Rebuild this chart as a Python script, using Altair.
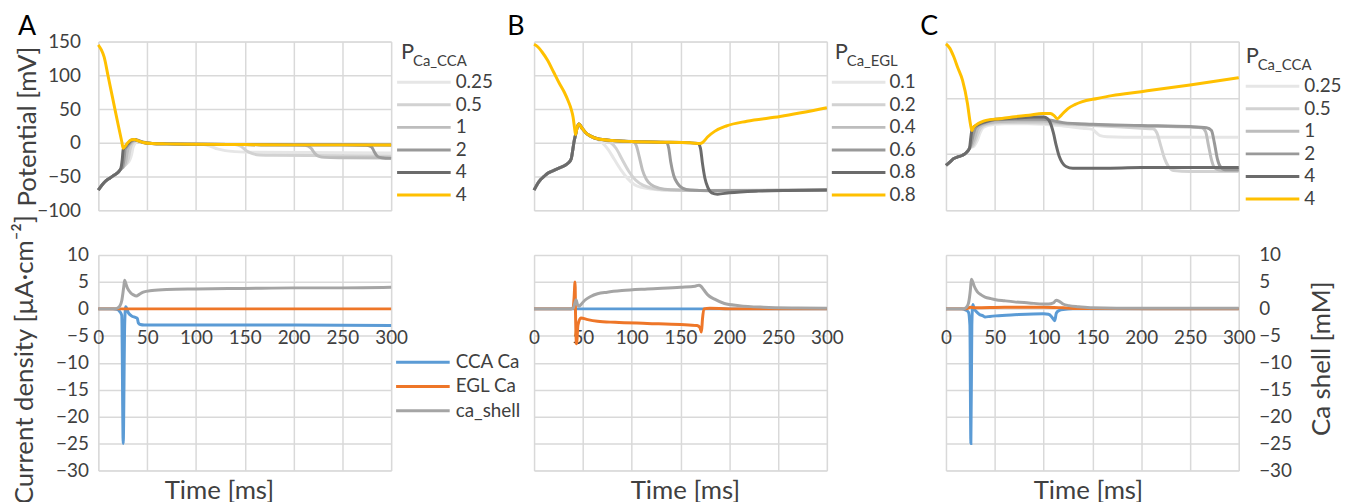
import altair as alt
import pandas as pd

FONT = "Lato"
INK = "#404040"
GRID = "#D9D9D9"

# ---------------- axis ticks / labels ----------------
time_ticks = [0, 50, 100, 150, 200, 250, 300]
pot_ticks_ab = [-100, -50, 0, 50, 100, 150]
pot_ticks_c = [-150, -50, 50, 150]
cur_ticks = [-30, -25, -20, -15, -10, -5, 0, 5, 10]

panel_letters = ["A", "B", "C"]
legend_A = ["0.25", "0.5", "1", "2", "4", "4"]
legend_B = ["0.1", "0.2", "0.4", "0.6", "0.8", "0.8"]
legend_C = ["0.25", "0.5", "1", "2", "4", "4"]
legend_main = "P"
legend_sub = ["Ca_CCA", "Ca_EGL", "Ca_CCA"]
trace_colors = ["#E6E6E6", "#D2D2D2", "#BDBDBD", "#999999", "#6B6B6B", "#FFC000"]
current_names = ["CCA Ca", "EGL Ca", "ca_shell"]
current_colors = ["#5B9BD5", "#EE7628", "#A5A5A5"]

# ---------------- panel A, potential ----------------
a1_t = [0, 4, 8, 12, 16, 20, 23, 26, 29, 32, 34, 35.5, 38, 41, 44, 49, 56, 70, 100, 108, 115, 122, 130, 140, 160, 250, 300]
a1_v = [-70, -62, -56, -52, -48, -44, -39, -35, -31, -26, -18, -7, 0, 2.5, 2, 0.5, -1, -1.5, -2, -2.5, -5, -9, -11.5, -13, -14, -14.5, -15]
a2_t = [0, 4, 8, 12, 16, 20, 23, 26, 29, 31, 32.5, 34, 37, 40, 43, 48, 55, 70, 100, 140, 146, 152, 158, 165, 180, 250, 300]
a2_v = [-70, -62, -56, -52, -48, -44, -39, -35, -30, -22, -10, -3, 2, 3.5, 2.5, 0.5, -1, -1.5, -2, -2.5, -5, -12, -16, -18, -18.5, -19, -19.5]
a3_t = [0, 4, 8, 12, 16, 20, 23, 26, 28, 29.5, 31, 33, 36, 39, 42, 47, 55, 70, 100, 150, 200, 212, 218, 222, 226, 232, 250, 300]
a3_v = [-70, -62, -56, -52, -48, -44, -39, -35, -28, -15, -6, -1, 3, 4, 3, 0.5, -1, -1.5, -2, -2.5, -3, -3.5, -8, -16, -20, -21.5, -22, -22.5]
a4_t = [0, 4, 8, 12, 16, 20, 23, 25, 26.5, 27.5, 30, 33, 36, 39, 42, 47, 55, 70, 100, 150, 200, 250, 275, 280, 283, 286, 290, 300]
a4_v = [-70, -62, -56, -52, -48, -44, -39, -35, -22, -10, -4, 1, 4, 4.5, 3, 0.5, -1, -1.5, -2, -2.5, -3, -3, -3.5, -6, -14, -20, -22, -23]
a5_t = [0, 4, 8, 12, 16, 20, 23, 24.5, 25.5, 28, 31, 34, 37, 41, 46, 55, 70, 100, 150, 200, 250, 300]
a5_v = [-70, -62, -56, -52, -48, -44, -38, -25, -10, -5, 0, 4, 5, 3, 0.5, -1, -1.5, -2, -2.5, -3, -3, -3.2]
a6_t = [0, 3, 6, 10, 15, 20, 24, 25.5, 28, 30, 34, 37, 41, 46, 55, 70, 100, 150, 200, 250, 300]
a6_v = [145, 138, 127, 99, 64, 29, 2, -8, -4, 0, 4.5, 5, 3, 0.5, -1, -1.5, -2, -2.5, -3, -3, -3.2]

# ---------------- panel B, potential ----------------
b_pre_t = [0, 3, 7, 10, 14, 20, 26, 31, 35, 38, 39.5, 41, 42.5, 44, 46, 49, 53, 58]
b_pre_v = [-70, -62, -54, -50, -45, -41, -37, -34, -30, -24, -12, 2, 12, 22, 28, 22, 15, 10]
b1_t = b_pre_t + [65, 70, 76, 82, 89, 96, 103, 110, 120, 135, 160, 200, 250, 300]
b1_v = b_pre_v + [5, 0, -10, -24, -40, -53, -62, -66, -68.5, -70, -70.5, -70.5, -70.5, -70]
b2_t = b_pre_t + [65, 72, 78, 84, 90, 97, 104, 112, 122, 140, 170, 220, 300]
b2_v = b_pre_v + [6, 4, 1, -8, -24, -42, -55, -63, -67.5, -70, -70.5, -70.5, -70]
b3_t = b_pre_t + [65, 80, 95, 102, 105, 108, 111, 115, 120, 128, 140, 170, 300]
b3_v = b_pre_v + [6, 3.5, 2.5, 1.5, -5, -22, -40, -54, -62, -67, -69.5, -70.5, -70]
b4_t = b_pre_t + [65, 80, 100, 130, 136, 138, 140, 143, 147, 152, 160, 180, 300]
b4_v = b_pre_v + [6, 3.5, 2, 1, 0.5, -8, -28, -48, -60, -67, -70, -71, -70]
b5_t = b_pre_t + [65, 80, 100, 130, 160, 168, 170.5, 172.5, 175, 178, 182, 188, 200, 230, 260, 300]
b5_v = b_pre_v + [6, 3.5, 2, 1, 0, -1, -8, -30, -52, -66, -74, -76, -74, -71.5, -70.5, -70]
b6_t = [0, 4, 8, 14, 20, 26, 31, 35, 38, 40, 41.5, 42.5, 44, 46, 49, 53, 58, 65, 80, 100, 130, 160, 170, 173, 178, 185, 197, 218, 252, 300]
b6_v = [146, 142, 135, 122, 105, 88, 75, 62, 50, 38, 22, 12, 22, 28, 22, 15, 10, 6, 3.5, 2, 1, 0, -1, 1, 9, 17, 25, 32, 39, 52]

# ---------------- panel C, potential ----------------
c_pre_t = [0, 4, 8, 12, 17, 21, 24]
c_pre_v = [-70, -64, -58, -55, -52, -47, -40]
c1_t = c_pre_t + [29, 32, 35, 38, 43, 50, 60, 85, 120, 140, 150, 154, 158, 165, 200, 300]
c1_v = c_pre_v + [-35, -26, -12, -3, 1, 3, 4, 4, 0, -4, -6, -12, -17, -19, -20, -20]
c2_t = c_pre_t + [28, 31, 34, 37, 42, 48, 58, 80, 120, 160, 200, 212, 216, 220, 224, 228, 233, 250, 300]
c2_v = c_pre_v + [-34, -22, -8, -1, 3, 5, 6, 6, 3, 0, -4, -5, -12, -35, -58, -72, -79, -81, -81]
c3_t = c_pre_t + [27, 30, 32, 35, 40, 45, 55, 75, 99, 120, 150, 200, 250, 262, 266, 269, 272, 275, 282, 300]
c3_v = c_pre_v + [-32, -18, -6, 0, 4, 6, 8, 9, 9, 5, 2, 0, -2, -3, -10, -35, -60, -74, -79, -79]
c4_t = c_pre_t + [26, 28, 30, 33, 38, 43, 51, 70, 99, 120, 150, 200, 250, 267, 272, 275, 278, 281, 286, 300]
c4_v = c_pre_v + [-30, -15, -4, 1, 5, 8, 11, 12, 12, 6, 3, 1, -1, -3, -8, -30, -58, -72, -78, -78]
c5_t = c_pre_t + [25.5, 26.5, 28, 31, 36, 41, 51, 70, 90, 100, 104, 107, 110, 113, 116, 119, 123, 130, 160, 200, 250, 300]
c5_v = c_pre_v + [-20, -8, -3, 1, 5, 8, 12, 14, 16, 16, 13, 5, -12, -35, -54, -65, -72, -75, -75, -74, -74, -74]
c6_t = [0, 4, 8, 12, 17, 22, 25, 26.5, 28, 31, 36, 41, 55, 68, 85, 99, 107, 111, 114, 118, 125, 132, 139, 155, 170, 200, 250, 300]
c6_v = [146, 138, 123, 104, 81, 40, 4, -8, -3, 2, 7, 10, 13, 16, 19, 22, 22, 18, 13, 19, 31, 38, 43, 49, 54, 61, 73, 86]

# ---------------- currents (bottom row) ----------------
ia_blue_t = [0, 15, 19, 22, 24, 25.5, 27, 28, 31, 34, 38, 40, 41, 43, 47, 60, 100, 200, 300]
ia_blue_v = [0, 0, -0.1, -0.5, -1.2, -25, -3, 0.4, -0.8, -1.3, -1.6, -1.8, -2.6, -2.9, -3, -3, -3, -3, -3.1]
ia_orange_t = [0, 100, 200, 300]
ia_orange_v = [0, 0, 0, 0]
ia_gray_t = [0, 15, 19, 22, 24, 26, 27, 28, 30, 33, 36, 39, 42, 46, 55, 70, 100, 150, 200, 250, 300]
ia_gray_v = [0, 0, 0.1, 0.5, 1.5, 4, 5.3, 4.8, 3.8, 3, 2.6, 2.4, 2.7, 3.1, 3.4, 3.6, 3.7, 3.8, 3.9, 3.9, 4]

ib_blue_t = [0, 300]
ib_blue_v = [0, 0]
ib_orange_t = [0, 38, 40, 41, 42, 42.5, 43.5, 45, 48, 55, 65, 83, 116, 150, 167, 170, 171.5, 172.5, 174, 180, 200, 300]
ib_orange_v = [0, 0, 0.2, 2, 5, -1, -6.5, -3, -1.7, -2, -2.3, -2.5, -2.7, -2.9, -3.1, -3.5, -4.3, -2, 0, 0.1, 0, 0]
ib_gray_t = [0, 36, 40, 42, 43, 44.5, 46, 48, 52, 58, 65, 75, 90, 116, 150, 165, 169, 171, 174, 178, 185, 195, 210, 235, 270, 300]
ib_gray_v = [0, 0, 0.1, 1.2, 1.7, 0.8, 0.5, 0.8, 1.6, 2.3, 2.8, 3.1, 3.4, 3.7, 4, 4.2, 4.4, 4.2, 3.5, 2.6, 1.8, 1, 0.6, 0.3, 0.15, 0.1]

ic_blue_t = [0, 16, 20, 23, 24.5, 25.5, 26.5, 27.5, 29, 31, 34, 38, 40, 45, 51, 70, 100, 105, 108, 110, 111.5, 113, 116, 120, 130, 300]
ic_blue_v = [0, 0, -0.2, -0.6, -3, -25, -3, 0.8, 0, -0.5, -1, -1.3, -1.5, -1.4, -1.3, -1.1, -0.9, -1, -1.4, -1.9, -2.2, -0.8, -0.3, -0.1, 0, 0]
ic_orange_t = [0, 20, 25, 30, 60, 100, 120, 140, 300]
ic_orange_v = [0, 0, 0.3, 0.2, 0.3, 0.3, 0.2, 0.05, 0]
ic_gray_t = [0, 18, 21, 23, 25, 26, 27, 29, 32, 36, 40, 46, 51, 60, 70, 85, 100, 105, 110, 113, 116, 120, 126, 136, 150, 200, 300]
ic_gray_v = [0, 0, 0.3, 1, 3.5, 5.5, 5.2, 4.2, 3.2, 2.6, 2.2, 1.9, 1.7, 1.5, 1.3, 1.1, 0.9, 0.9, 1.1, 1.6, 1.4, 0.9, 0.6, 0.4, 0.2, 0.1, 0.1]


def series_df(keys, series):
    rows = []
    for key, (ts, vs) in zip(keys, series):
        for t, v in zip(ts, vs):
            rows.append({"t": t, "v": v, "s": key})
    return pd.DataFrame(rows)


grid_axis = dict(grid=True, gridColor=GRID, gridWidth=1.5, domain=False, ticks=False, tickSize=0,
                 labelFont=FONT, labelFontSize=19, labelColor=INK, labelFlush=False, labelOverlap=False,
                 titleFont=FONT, titleFontSize=26, titleColor=INK, titleFontWeight="normal")

legend_common = dict(orient="none", padding=0, symbolType="M-1,0H4.4", symbolSize=400,
                     symbolStrokeWidth=3, labelFont=FONT, labelFontSize=19, labelColor=INK,
                     labelLimit=300)


def text_layer(txt, x, y, size, color):
    return alt.Chart(alt.Data(values=[{"txt": txt}])).mark_text(
        align="left", baseline="alphabetic", font=FONT, fontSize=size, color=color
    ).encode(text="txt:N", x=alt.value(x), y=alt.value(y))


def top_panel(labels, series, ydom, yticks, letter, letter_x, leg_x, leg_y, lab_off, sub, t_x, t_y, show_y):
    keys = [f"{i}|{lab}" for i, lab in enumerate(labels)]
    df = series_df(keys, series)
    y_kw = dict(values=yticks, labels=show_y, labelPadding=18, **grid_axis)
    if show_y:
        y_kw.update(title="Potential [mV]", titleX=-71, titleY=85, titleAngle=270,
                    titleAlign="center", titleBaseline="middle")
    else:
        y_kw.update(title=None)
    x = alt.X("t:Q", scale=alt.Scale(domain=[0, 300], nice=False, zero=False),
              axis=alt.Axis(values=time_ticks, labels=False, title=None, **grid_axis))
    y = alt.Y("v:Q", scale=alt.Scale(domain=ydom, nice=False, zero=False), axis=alt.Axis(**y_kw))
    color = alt.Color("s:N", scale=alt.Scale(domain=keys, range=trace_colors),
                      legend=alt.Legend(title=None, legendX=leg_x, legendY=leg_y, labelOffset=lab_off,
                                        rowPadding=0.7, labelExpr="split(datum.label, '|')[1]",
                                        **legend_common))
    base = alt.Chart(df).mark_line(strokeWidth=3, interpolate="monotone").encode(x=x, y=y, color=color)
    layers = [base.transform_filter(alt.datum.s == k) for k in keys]
    layers.append(text_layer(legend_main, t_x, t_y, 22, INK))
    layers.append(text_layer(sub, t_x + 12, t_y + 7, 15, INK))
    layers.append(text_layer(letter, letter_x, -7, 27, "#000000"))
    return alt.layer(*layers).properties(width=295, height=170)


def bottom_panel(series, y_kw, title_x, legend):
    df = series_df(current_names, series)
    x = alt.X("t:Q", scale=alt.Scale(domain=[0, 300], nice=False, zero=False),
              axis=alt.Axis(values=time_ticks, offset=-162.75, labelPadding=20, title="Time [ms]",
                            titleX=title_x, titleY=191, titleAlign="center",
                            titleBaseline="alphabetic", titleAngle=0, **grid_axis))
    y = alt.Y("v:Q", scale=alt.Scale(domain=[-30, 10], nice=False, zero=False), axis=alt.Axis(**y_kw))
    color = alt.Color("s:N", scale=alt.Scale(domain=current_names, range=current_colors), legend=legend)
    base = alt.Chart(df).mark_line(strokeWidth=3, interpolate="monotone").encode(x=x, y=y, color=color)
    layers = [base.transform_filter(alt.datum.s == k) for k in current_names]
    return alt.layer(*layers).properties(width=295, height=217)


def spacer(w, h):
    return alt.Chart(alt.Data(values=[{"k": 0}])).mark_point(opacity=0).encode(
        x=alt.value(0), y=alt.value(0)
    ).properties(width=w, height=h, view=alt.ViewBackground(stroke="transparent"))


topA = top_panel(legend_A, [(a1_t, a1_v), (a2_t, a2_v), (a3_t, a3_v), (a4_t, a4_v), (a5_t, a5_v), (a6_t, a6_v)],
                 [-100, 150], pot_ticks_ab, panel_letters[0], -81, 299.5, 29.5, 37.5, legend_sub[0], 305, 18, True)
topB = top_panel(legend_B, [(b1_t, b1_v), (b2_t, b2_v), (b3_t, b3_v), (b4_t, b4_v), (b5_t, b5_v), (b6_t, b6_v)],
                 [-100, 150], pot_ticks_ab, panel_letters[1], -27, 298.5, 29.5, 36.5, legend_sub[1], 303, 18, False)
topC = top_panel(legend_C, [(c1_t, c1_v), (c2_t, c2_v), (c3_t, c3_v), (c4_t, c4_v), (c5_t, c5_v), (c6_t, c6_v)],
                 [-150, 150], pot_ticks_c, panel_letters[2], -26, 300.5, 33.5, 37.5, legend_sub[2], 302, 22, False)

yA = dict(values=cur_ticks, labels=True, labelPadding=10, title="Current density [µA·cm⁻²]",
          titleX=-74, titleY=105, titleAngle=270, titleAlign="center", titleBaseline="middle", **grid_axis)
yB = dict(values=cur_ticks, labels=False, title=None, **grid_axis)
yC = dict(values=cur_ticks, labels=True, orient="right", labelPadding=20, title="Ca shell [mM]",
          titleX=83, titleY=104, titleAngle=270, titleAlign="center", titleBaseline="middle", **grid_axis)

legA = alt.Legend(title=None, legendX=298.5, legendY=96.5, labelOffset=38.5, rowPadding=2.5, **legend_common)

botA = bottom_panel([(ia_blue_t, ia_blue_v), (ia_orange_t, ia_orange_v), (ia_gray_t, ia_gray_v)], yA, 121.5, legA)
botB = bottom_panel([(ib_blue_t, ib_blue_v), (ib_orange_t, ib_orange_v), (ib_gray_t, ib_gray_v)], yB, 152, None)
botC = bottom_panel([(ic_blue_t, ic_blue_v), (ic_orange_t, ic_orange_v), (ic_gray_t, ic_gray_v)], yC, 143, None)

chart = alt.concat(
    topA, spacer(144, 170), topB, spacer(120, 170), topC,
    botA, spacer(144, 217), botB, spacer(120, 217), botC,
    columns=5, spacing={"row": 45, "column": 0}, bounds="flush", align="each"
).resolve_scale(color="independent").properties(
    padding={"left": 3, "top": 2, "right": 0, "bottom": 0}
).configure_view(stroke=GRID, strokeWidth=1.5).configure(font=FONT)

chart.save("out.html", embed_options={"renderer": "svg", "actions": False})
